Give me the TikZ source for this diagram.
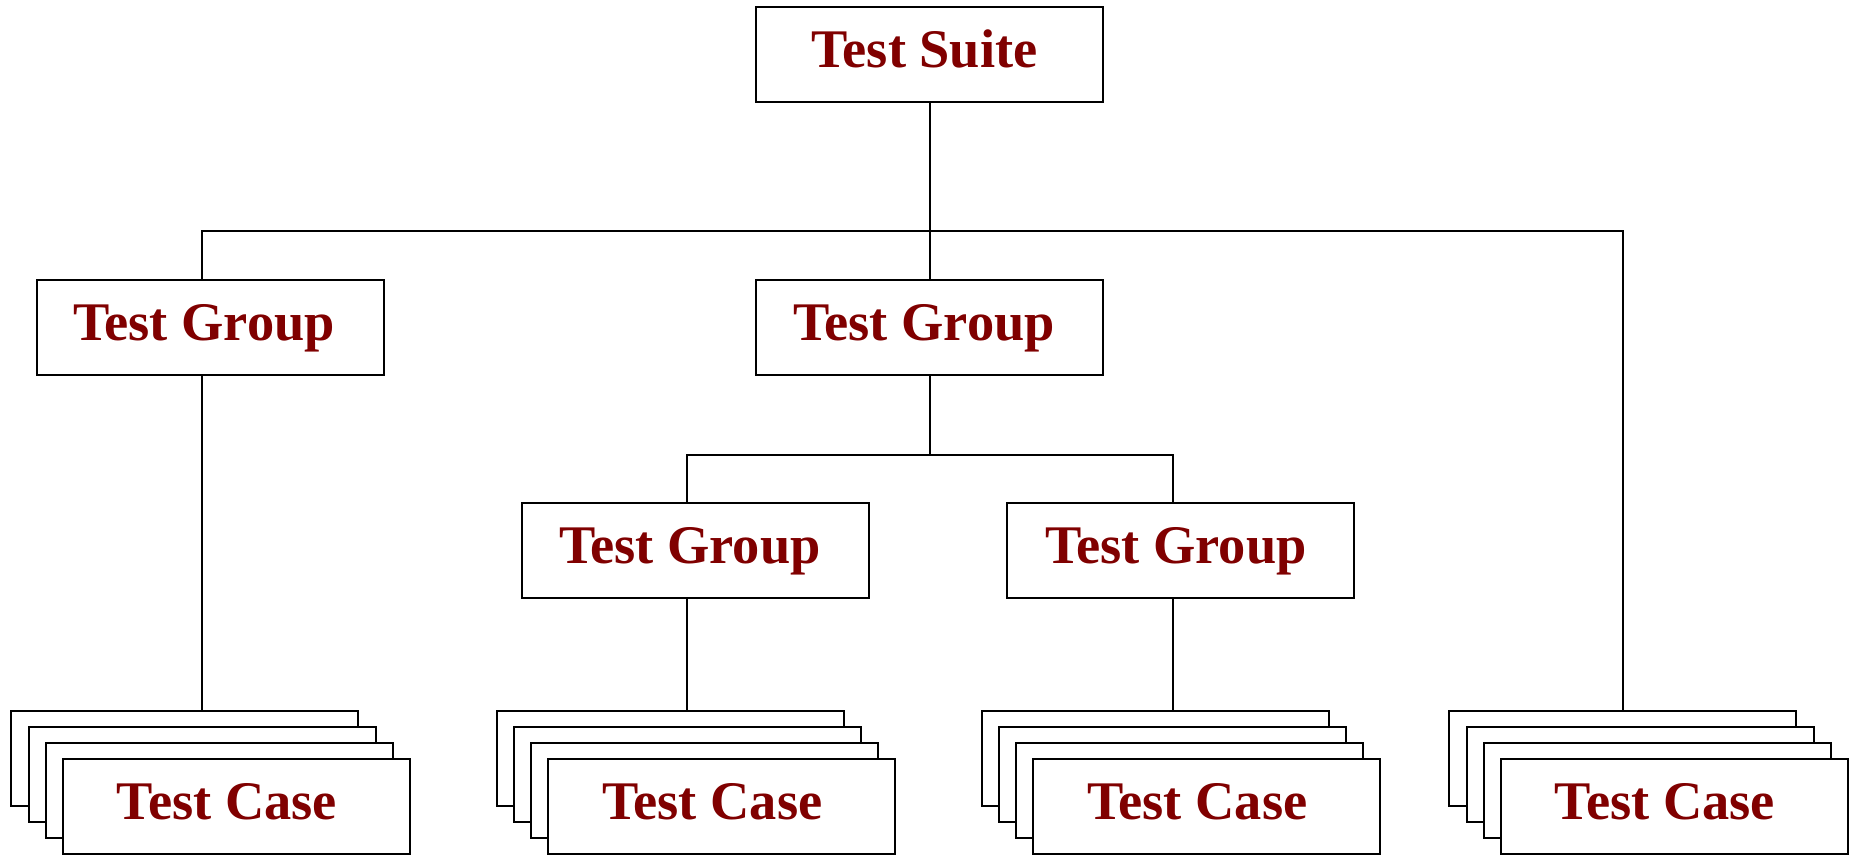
\documentclass[tikz,border=0pt]{standalone}
\usepackage{fontspec}
\setmainfont{Liberation Serif}
\definecolor{tred}{HTML}{800000}
\begin{document}
\begin{tikzpicture}[x=1pt,y=-1pt,
  box/.style={draw,line width=2pt,fill=white,minimum width=347pt,minimum height=95pt,
    inner sep=0pt,text height=36pt,text depth=10pt,
    font=\fontsize{54.4}{60}\selectfont\bfseries,text=tred},
  conn/.style={line width=2pt}]
\useasboundingbox (0,0) rectangle (1853,855);

\node[box] (ts) at (929.5,54.5) {Test Suite\hspace*{10pt}};
\node[box] (g1) at (210.5,327) {Test Group\hspace*{13pt}};
\node[box] (g2) at (929.5,327) {Test Group\hspace*{11pt}};
\node[box] (g3) at (695.8,550.3) {Test Group\hspace*{12pt}};
\node[box] (g4) at (1180.8,550.3) {Test Group\hspace*{10pt}};

\foreach \n/\cx in {1/184.8, 2/670.2, 3/1155.2, 4/1622.8} {
  \node[box] (s\n a) at (\cx,758.5) {};
  \node[box] (s\n b) at (\cx+17.2,774.5) {};
  \node[box] (s\n c) at (\cx+34.4,790.5) {};
  \node[box] (s\n d) at (\cx+51.6,806.5) {Test Case\hspace*{19pt}};
}

\coordinate (busAL) at (201.7,231);
\coordinate (busAR) at (1623.3,231);
\coordinate (busBL) at (686.7,455);
\coordinate (busBR) at (1172.7,455);

\draw[conn] (ts.south) -- (g2.north);
\draw[conn] (busAL |- g1.north) -- (busAL) -- (busAR) -- (busAR |- s4a.north);
\draw[conn] (g1.south -| busAL) -- (busAL |- s1a.north);
\draw[conn] (g2.south) -- (g2.south |- busBL);
\draw[conn] (busBL |- g3.north) -- (busBL) -- (busBR) -- (busBR |- g4.north);
\draw[conn] (g3.south -| busBL) -- (busBL |- s2a.north);
\draw[conn] (g4.south -| busBR) -- (busBR |- s3a.north);
\end{tikzpicture}
\end{document}
